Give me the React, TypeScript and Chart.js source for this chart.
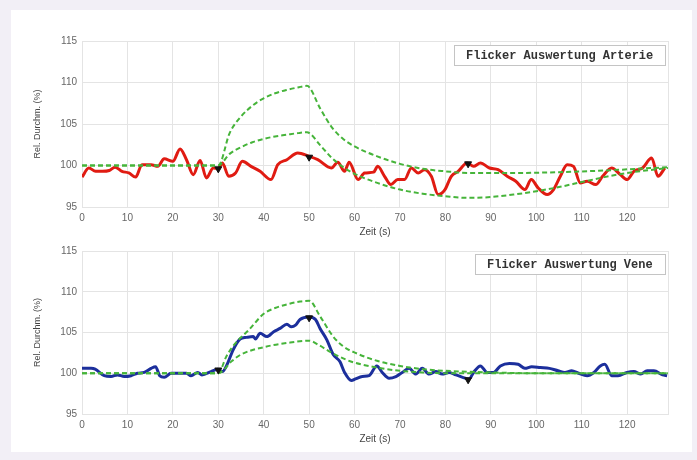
import React, { useEffect, useRef } from "react";
import { Chart, registerables } from "chart.js";

Chart.register(...registerables);

// ---------- data ----------
const xTickValues = [0, 10, 20, 30, 40, 50, 60, 70, 80, 90, 100, 110, 120];
const yTickValues = [95, 100, 105, 110, 115];

const arterieTime = [0, 1.5, 3, 4.5, 6, 7.3, 8.8, 10.3, 11.8, 13.2, 15.2, 16.7, 18.1, 20, 21.6, 23, 24.5, 26, 27.4, 28.9, 30, 30.9, 32.3, 33.8, 35.3, 37.2, 39.2, 41.6, 43.1, 45.1, 47.5, 50, 51.9, 54.9, 56.3, 57.8, 58.8, 60.8, 62.2, 64.2, 65.1, 66.6, 68, 69.5, 71, 72.5, 74, 75.4, 76.9, 78.4, 79.9, 81.3, 82.8, 84.8, 86.2, 87.7, 89.7, 91.6, 93.6, 95.5, 97.5, 98.9, 100.4, 102.4, 103.8, 105.3, 106.8, 108.2, 109.7, 111.2, 113.1, 114.6, 116.6, 118.5, 120, 121.5, 123.4, 125.4, 126.8, 128.3];
const arterieValues = [98.6, 99.7, 99.3, 99.3, 99.4, 99.8, 99.3, 99.1, 98.6, 100.1, 100.1, 99.9, 100.8, 100.5, 102.0, 100.7, 98.9, 100.6, 98.5, 99.7, 99.6, 100.3, 98.7, 99.1, 100.5, 99.9, 99.3, 98.3, 100.1, 100.7, 101.5, 101.1, 100.7, 99.7, 100.4, 99.3, 100.4, 98.3, 99.1, 99.2, 99.9, 98.7, 97.7, 98.3, 98.3, 99.7, 99.1, 99.5, 98.7, 96.5, 97.1, 98.7, 99.3, 100.3, 99.9, 100.3, 99.7, 99.5, 98.7, 98.1, 97.1, 98.3, 97.3, 96.5, 97.1, 98.7, 100.1, 99.9, 97.9, 98.1, 97.7, 98.7, 99.7, 98.9, 98.3, 99.3, 99.7, 100.9, 98.7, 99.7];

const arterieUpperTime = [0, 30, 32.5, 35, 37.5, 40, 42.5, 45, 47.5, 49.5, 52.5, 55, 57.5, 60, 65, 70, 75, 80, 85, 95, 105, 115, 129];
const arterieUpperValues = [100, 100, 103.9, 105.9, 107.2, 108.1, 108.7, 109.1, 109.4, 109.6, 106.8, 104.6, 103.2, 102.3, 101.1, 100.2, 99.6, 99.3, 99.1, 99.1, 99.2, 99.4, 99.8];
const arterieLowerTime = [0, 30, 32.5, 35, 37.5, 40, 42.5, 45, 47.5, 49.5, 52.5, 55, 57.5, 60, 65, 70, 75, 80, 85, 90, 95, 100, 105, 110, 115, 120, 129];
const arterieLowerValues = [100, 100, 101.4, 102.2, 102.8, 103.2, 103.5, 103.7, 103.9, 104.0, 102.4, 100.9, 99.8, 99.0, 97.9, 97.1, 96.6, 96.3, 96.1, 96.2, 96.5, 96.9, 97.4, 98.0, 98.6, 99.1, 99.7];
const arterieMarkTime = [30, 50, 85];
const arterieMarkValues = [99.6, 101.0, 100.2];

const veneTime = [0, 2, 2.9, 4.9, 6.4, 7.8, 9.3, 10.8, 12.2, 13.7, 15.2, 16.2, 17.1, 18.1, 19.6, 21.1, 23, 24, 25.5, 26.4, 28.4, 29.9, 30.9, 31.8, 33.3, 34.8, 36.2, 37.7, 38.2, 39.2, 40.7, 42.2, 43.6, 45.1, 46.1, 47, 48, 50, 51.4, 52.4, 53.9, 55.3, 56.8, 57.8, 59.3, 60.2, 61.7, 63.2, 64.9, 66.1, 67.6, 69.1, 70.5, 72, 73.5, 74.9, 76.4, 77.9, 79.3, 80.8, 82.3, 83.8, 85.2, 86.2, 87.7, 89.2, 90.6, 92.1, 94.1, 96, 97.5, 99, 100.9, 102.9, 104.8, 106.3, 107.8, 109.3, 111.2, 112.7, 114.1, 115.1, 116.6, 118, 120, 121.5, 123, 124.4, 125.9, 127.8, 128.8];
const veneValues = [100.6, 100.6, 100.5, 99.7, 99.6, 99.8, 99.6, 99.7, 100.0, 100.1, 100.6, 100.8, 99.7, 99.5, 100.0, 100.0, 100.0, 99.7, 100.1, 99.8, 100.2, 100.5, 100.2, 100.9, 102.9, 104.2, 104.4, 104.5, 104.2, 104.9, 104.5, 105.1, 105.5, 106.0, 105.7, 105.9, 106.6, 106.9, 106.6, 105.5, 104.1, 102.3, 101.4, 100.1, 99.1, 99.3, 99.6, 99.7, 100.9, 100.1, 99.4, 99.6, 100.1, 100.6, 99.9, 100.6, 99.9, 100.2, 99.9, 100.1, 99.8, 99.5, 99.3, 100.1, 100.9, 100.1, 100.1, 100.9, 101.2, 101.1, 100.6, 100.8, 100.7, 100.6, 100.3, 100.1, 100.3, 100.0, 99.7, 100.1, 100.9, 101.1, 99.7, 99.7, 100.1, 100.2, 99.9, 100.3, 100.3, 99.8, 99.7];

const veneUpperTime = [0, 30, 31.8, 33.8, 36.7, 40, 42.5, 45.5, 48, 50, 52.4, 55.3, 57.5, 60.2, 65.1, 70, 75, 80, 90, 100, 129];
const veneUpperValues = [100, 100, 102.1, 103.7, 105.3, 107.3, 108.0, 108.5, 108.8, 108.9, 107.0, 104.5, 103.3, 102.5, 101.5, 100.9, 100.5, 100.3, 100.1, 100.0, 100.0];
const veneLowerTime = [0, 30, 33, 35, 40, 45, 50, 52, 55, 58, 60, 65, 70, 75, 80, 129];
const veneLowerValues = [100, 100, 101.5, 102.3, 103.2, 103.7, 104.0, 103.5, 102.5, 101.7, 101.3, 100.7, 100.3, 100.1, 100.0, 100.0];
const veneMarkTime = [30, 50, 85];
const veneMarkValues = [100.4, 106.8, 99.2];

// ---------- helpers ----------
const toPoints = (xs: number[], ys: number[]) => xs.map((x, i) => ({ x, y: ys[i] }));

const decorPlugin = {
  id: "decor",
  afterDraw(chart: any, _args: any, opts: any) {
    const { ctx, chartArea: a } = chart;
    ctx.save();
    // legend-like box
    ctx.font = 'bold 12px "Liberation Mono", "DejaVu Sans Mono", monospace';
    const tw = ctx.measureText(opts.legend).width;
    const bw = Math.round(tw + 24);
    const bh = 20;
    const bx = Math.round(a.right - 3 - bw);
    const by = Math.round(a.top + opts.legendTop);
    ctx.fillStyle = "#ffffff";
    ctx.fillRect(bx, by, bw, bh);
    ctx.strokeStyle = "#c4c4c4";
    ctx.lineWidth = 1;
    ctx.strokeRect(bx + 0.5, by + 0.5, bw, bh);
    ctx.fillStyle = "#333333";
    ctx.textAlign = "left";
    ctx.textBaseline = "middle";
    ctx.fillText(opts.legend, bx + 12, by + bh / 2 + 1);
    // x title
    ctx.font = '10px "Liberation Sans", Arial, sans-serif';
    ctx.fillStyle = "#444444";
    ctx.textAlign = "center";
    ctx.fillText("Zeit (s)", (a.left + a.right) / 2, a.bottom + 25);
    // y title
    ctx.translate(27, (a.top + a.bottom) / 2);
    ctx.rotate(-Math.PI / 2);
    ctx.font = '9px "Liberation Sans", Arial, sans-serif';
    ctx.fillText("Rel. Durchm. (%)", 0, 0);
    ctx.restore();
  },
};

type Cfg = {
  main: { x: number; y: number }[];
  mainColor: string;
  upper: { x: number; y: number }[];
  lower: { x: number; y: number }[];
  marks: { x: number; y: number }[];
  legend: string;
  padTop: number;
  xHeight: number;
  legendTop: number;
};

const green = "#46b43a";

function makeChart(canvas: HTMLCanvasElement, c: Cfg) {
  const dashed = (data: any[]) => ({
    data,
    borderColor: green,
    borderWidth: 2,
    borderDash: [5, 3],
    pointRadius: 0,
    fill: false,
    cubicInterpolationMode: "monotone" as const,
    order: 2,
  });
  return new Chart(canvas, {
    type: "line",
    data: {
      datasets: [
        {
          data: c.main,
          borderColor: c.mainColor,
          borderWidth: 3,
          pointRadius: 0,
          fill: false,
          cubicInterpolationMode: "monotone",
          order: 3,
        },
        dashed(c.upper),
        dashed(c.lower),
        {
          data: c.marks,
          showLine: false,
          pointStyle: "triangle",
          rotation: 180,
          pointRadius: 4,
          backgroundColor: "#111111",
          borderColor: "#111111",
          borderWidth: 1,
          order: 0,
        } as any,
      ],
    },
    options: {
      animation: false,
      responsive: false,
      devicePixelRatio: 1,
      layout: { padding: { top: c.padTop, right: 24, left: 0, bottom: 0 } },
      plugins: {
        legend: { display: false },
        tooltip: { enabled: false },
        decor: { legend: c.legend, legendTop: c.legendTop },
      } as any,
      scales: {
        x: {
          type: "linear",
          min: 0,
          max: 129,
          ticks: {
            stepSize: 10,
            padding: 5,
            color: "#666666",
            font: { size: 10, family: '"Liberation Sans", Arial, sans-serif' },
            callback: (v: any) => (xTickValues.includes(Number(v)) ? String(v) : ""),
            maxRotation: 0,
            autoSkip: false,
          },
          grid: { color: "#e4e4e4", drawTicks: false, lineWidth: 1 },
          border: { color: "#e4e4e4" },
          afterFit: (s: any) => {
            s.height = c.xHeight;
          },
        },
        y: {
          type: "linear",
          min: 95,
          max: 115,
          afterBuildTicks: (s: any) => {
            s.ticks = yTickValues.map((v) => ({ value: v }));
          },
          ticks: {
            padding: 5,
            color: "#666666",
            font: { size: 10, family: '"Liberation Sans", Arial, sans-serif' },
          },
          grid: { color: "#e4e4e4", drawTicks: false, lineWidth: 1 },
          border: { color: "#e4e4e4" },
          afterFit: (s: any) => {
            s.width = 71;
          },
        },
      },
    },
    plugins: [decorPlugin as any],
  });
}

function Panel(props: { cfg: Cfg; top: number; height: number }) {
  const ref = useRef<HTMLCanvasElement>(null);
  useEffect(() => {
    if (!ref.current) return;
    const ch = makeChart(ref.current, props.cfg);
    return () => ch.destroy();
  }, []);
  return (
    <canvas
      ref={ref}
      width={681}
      height={props.height}
      style={{ position: "absolute", left: 0, top: props.top, width: 681, height: props.height }}
    />
  );
}

export default function App() {
  const arterie: Cfg = {
    main: toPoints(arterieTime, arterieValues),
    mainColor: "#e01b12",
    upper: toPoints(arterieUpperTime, arterieUpperValues),
    lower: toPoints(arterieLowerTime, arterieLowerValues),
    marks: toPoints(arterieMarkTime, arterieMarkValues),
    legend: "Flicker Auswertung Arterie",
    padTop: 31,
    xHeight: 33,
    legendTop: 4,
  };
  const vene: Cfg = {
    main: toPoints(veneTime, veneValues),
    mainColor: "#1c2f9c",
    upper: toPoints(veneUpperTime, veneUpperValues),
    lower: toPoints(veneLowerTime, veneLowerValues),
    marks: toPoints(veneMarkTime, veneMarkValues),
    legend: "Flicker Auswertung Vene",
    padTop: 10,
    xHeight: 38,
    legendTop: 3,
  };
  return (
    <div
      style={{
        position: "fixed",
        left: 0,
        top: 0,
        width: 697,
        height: 460,
        background: "#f2eff6",
        overflow: "hidden",
      }}
    >
      <div
        style={{
          position: "absolute",
          left: 11,
          top: 10,
          width: 681,
          height: 442,
          background: "#ffffff",
        }}
      >
        <Panel cfg={arterie} top={0} height={230} />
        <Panel cfg={vene} top={230} height={212} />
      </div>
    </div>
  );
}
